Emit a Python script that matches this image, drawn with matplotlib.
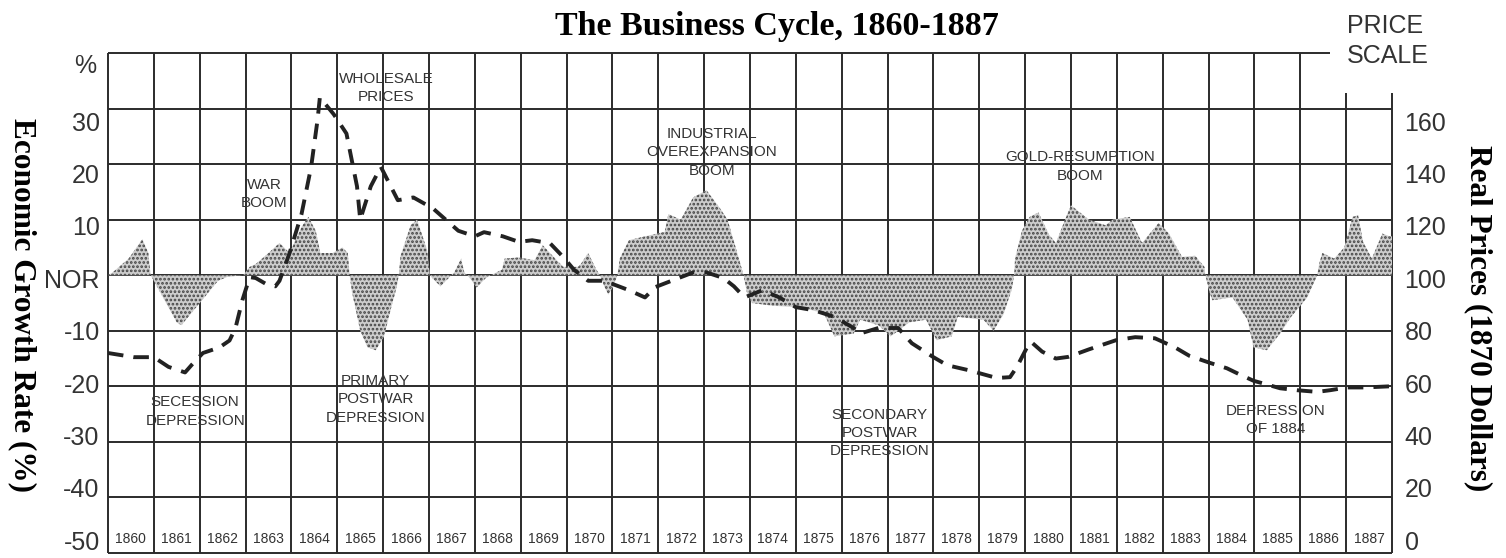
import matplotlib
matplotlib.use("Agg")
import matplotlib.pyplot as plt
from matplotlib.transforms import ScaledTranslation

plt.rcParams['font.family'] = ['Liberation Sans', 'DejaVu Sans']
plt.rcParams['hatch.linewidth'] = 1.3
plt.rcParams['hatch.color'] = '#444444'

# growth rate of the economy (% deviation from normal)
growth_years = [
    1860.0, 1860.1, 1860.45, 1860.75, 1860.88, 1860.93,
    1861.0, 1861.2, 1861.5, 1861.6, 1861.85, 1862.1, 1862.4, 1862.6, 1862.95,
    1863.09, 1863.22, 1863.5, 1863.74, 1863.96, 1864.22, 1864.37, 1864.53, 1864.63, 1864.9, 1865.11, 1865.23, 1865.27,
    1865.32, 1865.5, 1865.66, 1865.84, 1866.02, 1866.17, 1866.3, 1866.34,
    1866.38, 1866.6, 1866.74, 1866.96, 1867.02,
    1867.07, 1867.25, 1867.43, 1867.48,
    1867.55, 1867.7, 1867.77,
    1867.89, 1868.04, 1868.24, 1868.35,
    1868.59, 1868.65, 1868.96, 1869.3, 1869.48, 1869.75, 1869.93, 1870.25, 1870.31, 1870.47, 1870.65, 1870.73,
    1870.82, 1870.91, 1871.02, 1871.11,
    1871.16, 1871.36, 1871.71, 1872.14, 1872.22, 1872.49, 1872.76, 1873.05, 1873.35, 1873.51, 1873.74, 1873.86,
    1873.93, 1874.04, 1874.5, 1874.93, 1875.2, 1875.61, 1875.84, 1876.26, 1876.4, 1876.8, 1877.07, 1877.47,
    1877.84, 1878.07, 1878.4, 1878.53, 1879.09, 1879.31, 1879.53, 1879.71, 1879.76,
    1879.78, 1879.93, 1880.1, 1880.29, 1880.52, 1880.67, 1880.87, 1881.0, 1881.39, 1881.75,
    1881.91, 1882.28, 1882.55, 1882.91, 1883.13, 1883.42, 1883.71, 1883.91, 1883.93,
    1884.02, 1884.08, 1884.52, 1884.85, 1884.98, 1885.27, 1885.56, 1885.78, 1886.15, 1886.37,
    1886.41, 1886.48, 1886.74, 1886.96, 1887.14, 1887.26, 1887.37, 1887.56, 1887.79, 1887.95, 1888.0,
]
growth_rate = [
    0, 0.5, 3, 6.5, 4, 0,
    -1, -4, -8.5, -9, -6.5, -4, -1, -0.3, 0,
    1.5, 2, 4, 5.8, 4, 8.7, 10.5, 8, 4, 4, 5, 4, 0,
    -3, -10, -13, -13.5, -11, -6, -2, 0,
    3.5, 9, 10, 4.5, 0,
    -0.5, -2, -0.5, 0,
    0.5, 3, 0.5,
    -0.5, -2.2, -0.5, 0,
    1, 3, 3.2, 2.7, 5.4, 3, 1.5, 1.5, 2, 4, 1, 0,
    -2, -3.5, -2, 0,
    3, 6.3, 7, 7.8, 11, 10, 14, 15.3, 12, 10, 3.5, 0,
    -3, -5, -5.5, -5.7, -6, -6.8, -11, -10.5, -8, -9, -11, -8.5,
    -8, -11.7, -11, -7.5, -8, -10, -7, -2.5, 0,
    3, 8, 10.5, 11.3, 7.3, 5.8, 10, 12.6, 10, 9,
    10, 10.5, 5.8, 9.4, 7.6, 3.3, 3.5, 1.5, 0,
    -3, -4.5, -4, -8, -13, -13.5, -10.5, -7.7, -4, 0,
    2, 4, 3, 5, 10.5, 10.8, 6, 3, 7.5, 7, 7,
]

# wholesale prices in 1870 dollars (right scale)
price_years = [
    1860.0, 1860.56, 1861.0, 1861.32, 1861.68, 1861.84, 1862.07, 1862.43, 1862.65, 1862.78,
    1862.93, 1863.09, 1863.22, 1863.43, 1863.65, 1863.74, 1863.96, 1864.22, 1864.43, 1864.57,
    1864.62, 1864.92, 1865.2, 1865.43, 1865.5, 1865.73, 1865.95, 1866.32, 1866.66, 1867.09,
    1867.64, 1868.0, 1868.2, 1868.61, 1868.96, 1869.25, 1869.64, 1869.93, 1870.16, 1870.47,
    1870.82, 1871.36, 1871.71, 1871.93, 1872.29, 1872.76, 1873.05, 1873.42, 1873.65, 1873.88,
    1874.27, 1874.64, 1875.0, 1875.39, 1875.84, 1876.26, 1876.4, 1876.8, 1877.23, 1877.53,
    1878.0, 1878.3, 1878.77, 1879.38, 1879.67, 1879.82, 1880.04, 1880.13, 1880.37, 1880.67,
    1880.94, 1881.39, 1881.98, 1882.4, 1882.83, 1883.27, 1883.58, 1884.02, 1884.4, 1884.65,
    1884.98, 1885.2, 1885.56, 1885.93, 1886.37, 1886.65, 1887.02, 1887.42, 1887.95,
]
real_price = [
    72, 70.5, 70.5, 67, 65, 68, 72, 74, 76.5, 81,
    91, 99.3, 99, 97, 96, 98, 108, 122, 139, 156,
    164, 158, 151, 132, 120, 132, 139, 127, 128, 124,
    116, 114, 115.5, 114, 112, 112.6, 111.5, 106.5, 102, 98,
    98, 94.6, 92, 95.7, 98, 101, 101, 99, 96, 92,
    94.6, 92, 88.5, 87.4, 85, 81, 79, 81, 81, 75.5,
    70.5, 67.6, 65.8, 63, 63.3, 67, 74, 76, 72.5, 70,
    70.6, 73.3, 76.6, 77.7, 77.3, 74, 71, 68.5, 66.5, 64.5,
    62, 61, 59.3, 58.6, 58, 58.6, 59.6, 59.6, 60,
]

years = list(range(1860, 1888))
growth_ticks = [30, 20, 10, 0, -10, -20, -30, -40, -50]
growth_labels = ['30', '20', '10', 'NOR', '-10', '-20', '-30', '-40', '-50']
price_ticks = [160, 140, 120, 100, 80, 60, 40, 20, 0]

# episode labels: (text, year, growth value)
episodes = [
    ("WHOLESALE\nPRICES", 1866.06, 33.7),
    ("WAR\nBOOM", 1863.4, 14.6),
    ("INDUSTRIAL\nOVEREXPANSION\nBOOM", 1873.17, 22.1),
    ("GOLD-RESUMPTION\nBOOM", 1881.2, 19.6),
    ("SECESSION\nDEPRESSION", 1861.9, -24.5),
    ("PRIMARY\nPOSTWAR\nDEPRESSION", 1865.84, -22.3),
    ("SECONDARY\nPOSTWAR\nDEPRESSION", 1876.83, -28.4),
    ("DEPRESSION\nOF 1884", 1885.47, -26.1),
]

ink = '#2b2b2b'
fig = plt.figure(figsize=(15.06, 5.58), dpi=100)
ax = fig.add_axes([108 / 1506, 5 / 558, 1284 / 1506, 500 / 558])
ax.set_xlim(1860, 1888)
ax.set_ylim(-50, 40)
for s in ax.spines.values():
    s.set_visible(False)

# hand-drawn style grid: top row is cut off under the PRICE SCALE label
ax.hlines(range(-50, 40, 10), 1860, 1888, color=ink, lw=1.4, zorder=1, clip_on=False)
ax.hlines(40, 1860, 1886.65, color=ink, lw=1.4, zorder=1, clip_on=False)
ax.vlines(years[:-1], -50, 40, color=ink, lw=1.4, zorder=1, clip_on=False)
ax.vlines([1887, 1888], -50, 32.8, color=ink, lw=1.4, zorder=1, clip_on=False)

ax.fill_between(growth_years, 0, growth_rate, facecolor='#cdcdcd', hatch='....',
                edgecolor='#444444', linewidth=0, zorder=2)

ax.set_yticks(growth_ticks)
ax.set_yticklabels(growth_labels)
ax.set_xticks([])
ax.tick_params(axis='y', length=0, pad=6, labelsize=18, labelcolor='#333333')

ax2 = ax.twinx()
ax2.set_ylim(0, 180)
for s in ax2.spines.values():
    s.set_visible(False)
ax2.set_yticks(price_ticks)
ax2.tick_params(axis='y', length=0, pad=9, labelsize=18, labelcolor='#333333')

# the printed scale labels sit a little off the grid lines (down at the top, up at the bottom)
fig.canvas.draw()
for g, lab_l, lab_r in zip(growth_ticks, ax.get_yticklabels(), ax2.get_yticklabels()):
    shift = ScaledTranslation(0, -(3 + 0.315 * g) / 100, fig.dpi_scale_trans)
    lab_l.set_transform(lab_l.get_transform() + shift)
    lab_r.set_transform(lab_r.get_transform() + shift)

for y in years:
    ax.text(y + 0.5, -47.5, str(y), ha='center', va='center', fontsize=10, color='#333333')

for txt, x, y in episodes:
    ax.text(x, y, txt, ha='center', va='center', fontsize=11, color='#333333',
            linespacing=1.4, zorder=5)

ax2.plot(price_years, real_price, color='#222222', lw=2.8, ls=(0, (4, 2.6)),
         solid_capstyle='butt', zorder=4)

fig.text(777 / 1506, 1 - 26 / 558, "The Business Cycle, 1860-1887", ha='center', va='center',
         fontsize=24.5, fontweight='bold', family='Liberation Serif')
fig.text(22 / 1506, 1 - 305 / 558, "Economic Growth Rate (%)", rotation=270, ha='center',
         va='center', fontsize=22.5, fontweight='bold', family='Liberation Serif')
fig.text(1478 / 1506, 1 - 318 / 558, "Real Prices (1870 Dollars)", rotation=270, ha='center',
         va='center', fontsize=22.5, fontweight='bold', family='Liberation Serif')
fig.text(1347 / 1506, 1 - 41 / 558, "PRICE\nSCALE", ha='left', va='center', fontsize=18,
         color='#333333', linespacing=1.35)
fig.text(85 / 1506, 1 - 66 / 558, "%", ha='center', va='center', fontsize=18, color='#333333')

fig.savefig("out.png", dpi=100)
